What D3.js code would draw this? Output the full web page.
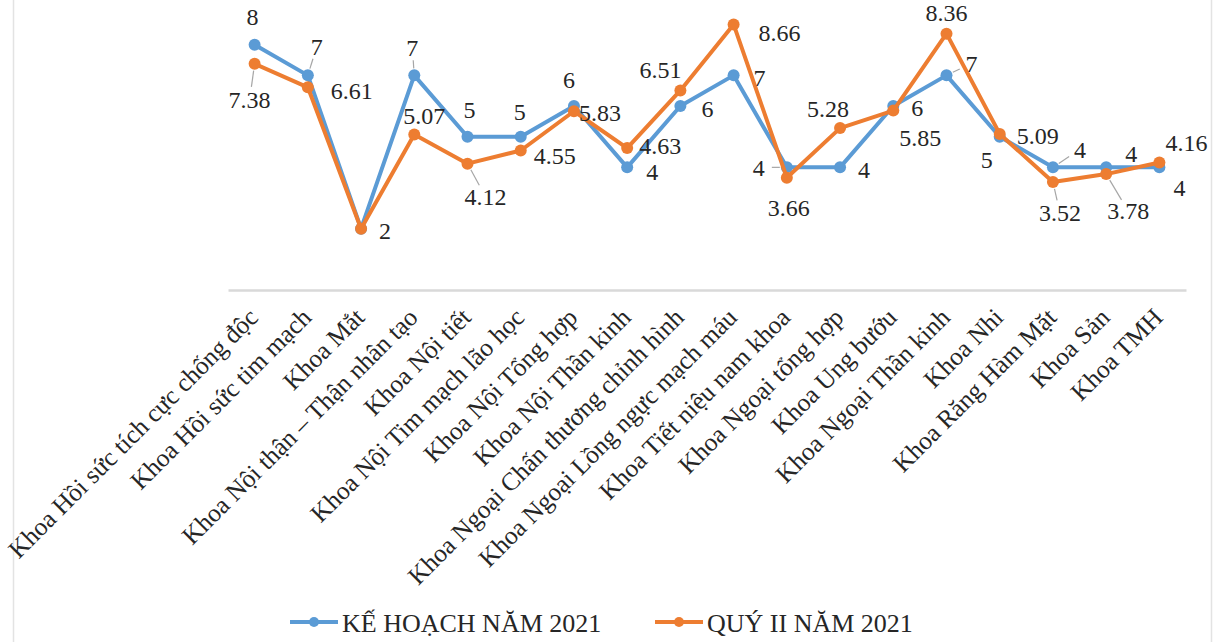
<!DOCTYPE html>
<html>
<head>
<meta charset="utf-8">
<script src="https://cdn.jsdelivr.net/npm/d3@7"></script>
<style>
  html, body { margin: 0; padding: 0; background: #fff; }
  svg { display: block; }
  text { font-family: "Liberation Serif", "Times New Roman", serif; fill: #262626; }
</style>
</head>
<body>
<svg id="chart" width="1220" height="642"></svg>
<script>
// Departments
const categories = [
  "Khoa Hồi sức tích cực chống độc",
  "Khoa Hồi sức tim mạch",
  "Khoa Mắt",
  "Khoa Nội thận – Thận nhân tạo",
  "Khoa Nội tiết",
  "Khoa Nội Tim mạch lão học",
  "Khoa Nội Tổng hợp",
  "Khoa Nội Thần kinh",
  "Khoa Ngoại Chấn thương chỉnh hình",
  "Khoa Ngoại Lồng ngực mạch máu",
  "Khoa Tiết niệu nam khoa",
  "Khoa Ngoại tổng hợp",
  "Khoa Ung bướu",
  "Khoa Ngoại Thần kinh",
  "Khoa Nhi",
  "Khoa Răng Hàm Mặt",
  "Khoa Sản",
  "Khoa TMH"
];

// Series values
const planValues   = [8, 7, 2, 7, 5, 5, 6, 4, 6, 7, 4, 4, 6, 7, 5, 4, 4, 4];
const actualValues = [7.38, 6.61, 2, 5.07, 4.12, 4.55, 5.83, 4.63, 6.51, 8.66, 3.66, 5.28, 5.85, 8.36, 5.09, 3.52, 3.78, 4.16];

const seriesNames = ["KẾ HOẠCH NĂM 2021", "QUÝ II NĂM 2021"];

// Data label placement (offset of label centre from its point, in px)
const planLabelOffsets = [
  [-2,-28],[9,-29],[24,2],[-2,-28],[2,-27],[-1,-25],[-5,-26],[25,4],[27,3],[26,2],
  [-28,0],[24,2],[24,2],[25,-12],[-13,23],[27,-18],[25,-14],[20,20]
];
const actualLabelOffsets = [
  [-5,36],[44,3],null,[10,-19],[18,33],[34,5],[26,1],[33,-2],[-20,-21],[46,8],
  [2,30],[-12,-20],[27,27],[0,-21],[38,2],[7,31],[22,37],[27,-20]
];

// Labels that are tied to their point by a leader line: [series, category]
const leaderLabels = [[0,1],[0,3],[0,10],[0,13],[0,15],[1,0],[1,4],[1,15],[1,16]];

const colors = ["#5B9BD5", "#ED7D31"];

const svg = d3.select("#chart");

// light frame of the chart area
svg.append("rect")
  .attr("x", 13.5).attr("y", -2).attr("width", 1198).attr("height", 650)
  .attr("fill", "none").attr("stroke", "#e3e3e3").attr("stroke-width", 1.5);

const x = d3.scaleBand().domain(categories).range([228, 1186]);
const y = d3.scaleLinear().domain([0, 8]).range([290, 44.7]);
const cx = d => x(d) + x.bandwidth() / 2;

// category axis
const axis = svg.append("g")
  .attr("transform", "translate(0,290)")
  .call(d3.axisBottom(x).tickSize(0).tickPadding(0));
axis.select(".domain").attr("stroke", "#d9d9d9").attr("stroke-width", 2.5);
axis.selectAll(".tick text")
  .attr("x", 0).attr("y", 0).attr("dy", 0)
  .attr("transform", "translate(5,29) rotate(-45)")
  .attr("text-anchor", "end")
  .style("font-family", "'Liberation Serif', 'Times New Roman', serif")
  .style("font-size", "25.5px")
  .style("fill", "#262626");

const series = [planValues, actualValues];
const offsets = [planLabelOffsets, actualLabelOffsets];

// leader lines (drawn beneath the series)
const leaders = svg.append("g");
leaderLabels.forEach(([si, ci]) => {
  const o = offsets[si][ci];
  const px = cx(categories[ci]), py = y(series[si][ci]);
  const len = Math.hypot(o[0], o[1]);
  const ux = o[0] / len, uy = o[1] / len;
  const start = 7, end = Math.max(start + 4, len - 13);
  leaders.append("line")
    .attr("x1", px + ux * start).attr("y1", py + uy * start)
    .attr("x2", px + ux * end).attr("y2", py + uy * end)
    .attr("stroke", "#a6a6a6").attr("stroke-width", 1.2);
});

series.forEach((vals, si) => {
  const pts = categories.map((c, i) => ({ c, v: vals[i], i }));
  const line = d3.line().x(d => cx(d.c)).y(d => y(d.v));
  const g = svg.append("g");
  g.append("path")
    .datum(pts)
    .attr("d", line)
    .attr("fill", "none")
    .attr("stroke", colors[si])
    .attr("stroke-width", 4)
    .attr("stroke-linejoin", "round");
  g.selectAll("circle")
    .data(pts)
    .join("circle")
    .attr("cx", d => cx(d.c))
    .attr("cy", d => y(d.v))
    .attr("r", 6)
    .attr("fill", colors[si]);
});

// data labels
series.forEach((vals, si) => {
  const pts = categories.map((c, i) => ({ c, v: vals[i], o: offsets[si][i] }))
    .filter(d => d.o);
  svg.append("g").selectAll("text")
    .data(pts)
    .join("text")
    .attr("x", d => cx(d.c) + d.o[0])
    .attr("y", d => y(d.v) + d.o[1])
    .attr("dy", "0.35em")
    .attr("text-anchor", "middle")
    .style("font-size", "24px")
    .text(d => d.v);
});

// legend
const legend = svg.append("g").attr("transform", "translate(0,622)");
const legendX = [290, 655];
seriesNames.forEach((name, i) => {
  const lg = legend.append("g").attr("transform", `translate(${legendX[i]},0)`);
  lg.append("line").attr("x1", 0).attr("x2", 48).attr("y1", 0).attr("y2", 0)
    .attr("stroke", colors[i]).attr("stroke-width", 4);
  lg.append("circle").attr("cx", 24).attr("cy", 0).attr("r", 5).attr("fill", colors[i]);
  lg.append("text").attr("x", 52).attr("y", 10)
    .style("font-size", "26px")
    .text(name);
});
</script>
</body>
</html>
